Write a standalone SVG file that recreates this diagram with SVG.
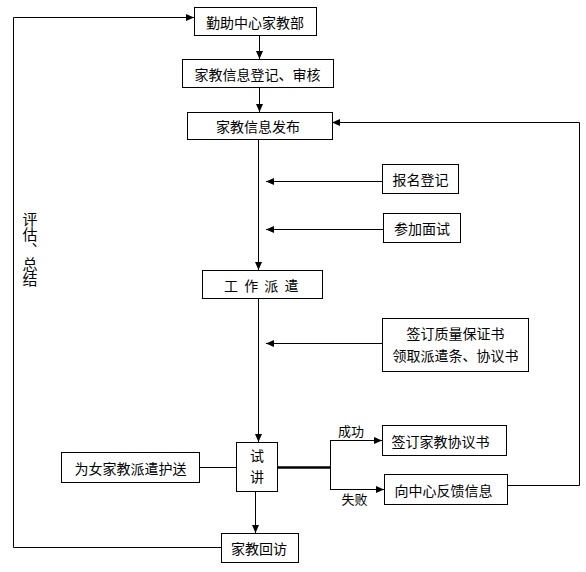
<svg xmlns="http://www.w3.org/2000/svg" width="586" height="572" viewBox="0 0 586 572">
<style>
rect.n{fill:#fff;stroke:#000;stroke-width:1}
text{font-family:"Noto Sans CJK SC","Liberation Sans",sans-serif;font-size:14px;fill:#000;text-anchor:middle;dominant-baseline:central}
.c{fill:none;stroke:#000;stroke-width:1}
.lbl{font-size:13px}
.vt{writing-mode:vertical-rl;font-size:15px}
</style>
<defs>
<marker id="ah" markerUnits="userSpaceOnUse" markerWidth="8" markerHeight="8" viewBox="0 0 8 8" refX="8" refY="4" orient="auto">
<path d="M0,0.5 L8,4 L0,7.5 z" fill="#000"/>
</marker>
</defs>
<rect width="586" height="572" fill="#fff"/>
<g id="connectors">
<path class="c" d="M259.5,35 V59" marker-end="url(#ah)"/>
<path class="c" d="M259.5,87 V112" marker-end="url(#ah)"/>
<path class="c" d="M258.5,139 V270" marker-end="url(#ah)"/>
<path class="c" d="M382,181.5 H266" marker-end="url(#ah)"/>
<path class="c" d="M383,229.5 H266" marker-end="url(#ah)"/>
<path class="c" d="M382,343.5 H266" marker-end="url(#ah)"/>
<path class="c" d="M258.5,298 V442" marker-end="url(#ah)"/>
<path class="c" d="M199,467.5 H236"/>
<path class="c" d="M277,467.5 H330.5" style="stroke-width:2.5"/>
<path class="c" d="M330.5,440.5 V489.5"/>
<path class="c" d="M330,440.5 H382" marker-end="url(#ah)"/>
<path class="c" d="M330,489.5 H384" marker-end="url(#ah)"/>
<path class="c" d="M507,485.5 H579.5 V122.5 H332" marker-end="url(#ah)"/>
<path class="c" d="M255.5,491 V533" marker-end="url(#ah)"/>
<path class="c" d="M221,547.5 H13.5 V17.5 H194" marker-end="url(#ah)"/>
<text class="lbl" x="351" y="430">成功</text>
<text class="lbl" x="354.5" y="498.5">失败</text>
<text class="vt" x="30" y="249">评估、总结</text>
</g>
<g id="n1"><rect class="n" x="194.5" y="7.5" width="122" height="28"/><text x="255" y="21.5">勤助中心家教部</text></g>
<g id="n2"><rect class="n" x="182.5" y="59.5" width="151" height="28"/><text x="257.5" y="73.5">家教信息登记、审核</text></g>
<g id="n3"><rect class="n" x="187.5" y="112.5" width="145" height="27"/><text x="258" y="126">家教信息发布</text></g>
<g id="n4"><rect class="n" x="382.5" y="164.5" width="76" height="29"/><text x="420.5" y="179">报名登记</text></g>
<g id="n5"><rect class="n" x="383.5" y="213.5" width="77" height="29"/><text x="422" y="228">参加面试</text></g>
<g id="n6"><rect class="n" x="202.5" y="270.5" width="120" height="28"/><text x="262" y="284.5" style="letter-spacing:1.5px">工 作 派 遣</text></g>
<g id="n7"><rect class="n" x="382.5" y="318.5" width="146" height="53"/><text x="455.5" y="333">签订质量保证书</text><text x="455.5" y="355">领取派遣条、协议书</text></g>
<g id="n8"><rect class="n" x="236.5" y="442.5" width="41" height="49"/><text x="257" y="455">试</text><text x="257" y="476">讲</text></g>
<g id="n9"><rect class="n" x="61.5" y="452.5" width="138" height="30"/><text x="130.5" y="467.5">为女家教派遣护送</text></g>
<g id="n10"><rect class="n" x="382.5" y="425.5" width="124" height="30"/><text x="440.5" y="440.5">签订家教协议书</text></g>
<g id="n11"><rect class="n" x="384.5" y="474.5" width="123" height="30"/><text x="443.5" y="489.5">向中心反馈信息</text></g>
<g id="n12"><rect class="n" x="221.5" y="533.5" width="77" height="29"/><text x="259" y="548">家教回访</text></g>
</svg>
